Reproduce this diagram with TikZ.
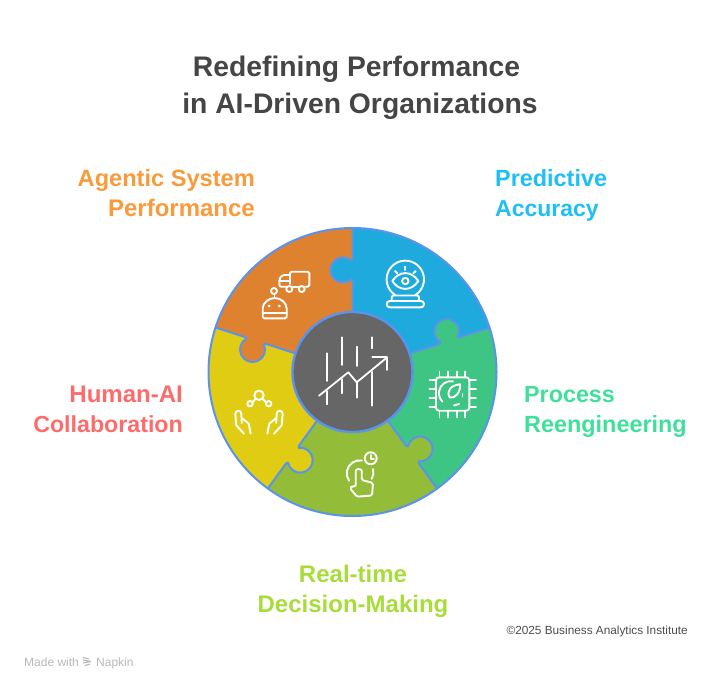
\documentclass[tikz,border=0pt]{standalone}
\usepackage{fontspec}
\setmainfont{Liberation Sans}
\definecolor{ringblue}{HTML}{5A93EE}
\definecolor{pOrange}{HTML}{DF8230}
\definecolor{pBlue}{HTML}{1EAADC}
\definecolor{pGreen}{HTML}{3FC583}
\definecolor{pLime}{HTML}{93BC38}
\definecolor{pYellow}{HTML}{E1CC14}
\definecolor{hub}{HTML}{666666}
\definecolor{tOrange}{HTML}{F99A3C}
\definecolor{tBlue}{HTML}{1EBFF5}
\definecolor{tGreen}{HTML}{3EE09A}
\definecolor{tLime}{HTML}{A8DC3A}
\definecolor{tRed}{HTML}{FF6B6B}
\tikzset{
  titletext/.style={font=\fontsize{28.3}{28.3}\selectfont\bfseries,text=black!73,inner sep=0pt,anchor=base},
  labeltext/.style={font=\fontsize{#1}{#1}\selectfont\bfseries,inner sep=0pt},
  icon/.style={draw=white,line width=1.9pt,line cap=round,line join=round},
  seam/.style={draw=ringblue,line width=2pt,line join=round,line cap=round},
}
\newcommand{\seampath}{(60,0) -- (91,0) -- (92.9,1) arc[start angle=223,end angle=-43,radius=12.5] -- (113,0) -- (144,0)}
\begin{document}
\begin{tikzpicture}[x=1pt,y=1pt]
\useasboundingbox (0,0) rectangle (720,-690);
% wedges: each lies clockwise of the seam at angle \a
\begin{scope}[shift={(352.5,-372)}]
  \foreach \a/\c in {90/pBlue,18/pGreen,-54/pLime,-126/pYellow,162/pOrange}{
    \begin{scope}[rotate=\a]
      \fill[\c] (60,0) -- (144,0) arc[start angle=0,end angle=-72,radius=144] -- (-72:60) arc[start angle=-72,end angle=0,radius=60] -- cycle;
    \end{scope}
  }
  \foreach \a/\c in {90/pBlue,18/pGreen,-54/pLime,-126/pYellow,162/pOrange}{
    \begin{scope}[rotate=\a]
      \fill[\c] (90,-1) -- (91,0) -- (92.9,1) arc[start angle=223,end angle=-43,radius=12.5] -- (113,0) -- (114,-1) -- cycle;
      \path[seam] \seampath;
    \end{scope}
  }
  \draw[ringblue,line width=2pt] (0,0) circle[radius=144];
  \filldraw[fill=hub,draw=ringblue,line width=2.4pt] (0,0) circle[radius=60];
\end{scope}
% hub icon
\begin{scope}[icon,line width=1.8pt]
  \draw (326.7,-353.3) -- (326.7,-381);
  \draw (326.7,-391) -- (326.7,-404.3);
  \draw (341.7,-337.3) -- (341.7,-365);
  \draw (341.7,-379) -- (341.7,-393.3);
  \draw (356.7,-346.7) -- (356.7,-366);
  \draw (356.7,-382.3) -- (356.7,-397.7);
  \draw (371.7,-337.3) -- (371.7,-348.3);
  \draw (371.7,-371.7) -- (371.7,-405.7);
  \draw (319,-395.7) -- (348.3,-372.3) -- (356.7,-382.3) -- (386.7,-357.7);
  \draw (372.3,-356.7) -- (386.7,-356.7) -- (386.7,-370);
\end{scope}
% truck and robot
\begin{scope}[icon]
  \draw[rounded corners=1.5pt] (290,-284) -- (290,-271.7) -- (309.3,-271.7) -- (309.3,-286.7) -- (305,-286.7);
  \draw (298.5,-286.7) -- (292.5,-286.7);
  \draw[rounded corners=2pt] (286,-286.7) -- (279.3,-286.7) -- (279.3,-279) -- (282,-275) -- (290,-275);
  \draw (279.5,-281) -- (290,-281);
  \draw (289.3,-289) circle[radius=3];
  \draw (301.7,-289) circle[radius=3];
  \draw (274,-291) circle[radius=3];
  \draw (274.5,-294) -- (274.5,-298);
  \draw[rounded corners=1.5pt] (262.7,-318.3) -- (262.7,-310) arc[start angle=180,end angle=0,radius=12] -- (286.7,-318.3) -- cycle;
  \draw (262.7,-313.3) -- (286.7,-313.3);
  \fill[white,draw=none] (269,-306) circle[radius=1.5] (279.3,-306) circle[radius=1.5];
\end{scope}
% crystal ball
\begin{scope}[icon]
  \draw (395.4,-295.2) arc[start angle=238,end angle=-58,radius=18.7];
  \draw (392.3,-281) .. controls (399,-270.5) and (411.5,-270.5) .. (418.3,-281) .. controls (411.5,-291.5) and (399,-291.5) .. (392.3,-281) -- cycle;
  \draw (405.3,-281) circle[radius=3.2];
  \draw (405.3,-266.7) -- (405.3,-270);
  \draw (395,-271) -- (397.3,-273.3);
  \draw (415.7,-271) -- (413.3,-273.3);
  \draw[rounded corners=2pt] (391.7,-301) -- (391.7,-295.5) -- (419,-295.5) -- (419,-301);
  \draw[rounded corners=3pt] (386.7,-301) rectangle (424,-307.3);
\end{scope}
% chip
\begin{scope}[icon]
  \draw[rounded corners=3pt] (436,-377.3) rectangle (469.3,-410.7);
  \foreach \t in {439.5,448.3,456.7,465}{
    \draw (\t,-371.7) -- (\t,-377.3);
    \draw (\t,-410.7) -- (\t,-417.3);
  }
  \foreach \t in {380,389,398.3,407.3}{
    \draw (429.5,-\t) -- (436,-\t);
    \draw (469.3,-\t) -- (476,-\t);
  }
  \draw (453,-381.3) arc[start angle=80,end angle=225,radius=12];
  \draw (454,-405.5) -- (459,-404);
  \draw (462.5,-394) -- (462.5,-396.5);
  \draw (449.5,-397.5) .. controls (446,-390) and (452,-385) .. (460,-384.3) .. controls (461,-392) and (455,-399) .. (449.5,-397.5) -- cycle;
\end{scope}
% hand and clock
\begin{scope}[icon]
  \draw (370.7,-458.3) circle[radius=6];
  \draw (370.7,-455) -- (370.7,-459) -- (374,-459);
  \draw (362,-460.5) arc[start angle=80,end angle=215,radius=13];
  \draw (373,-469) arc[start angle=15,end angle=-30,radius=13];
  \draw[rounded corners=1.5pt] (355.7,-486.7) -- (355.7,-472) arc[start angle=180,end angle=0,radius=3] -- (361.7,-480) -- (373,-483) -- (372,-495.5) -- (357,-496.7) -- (350,-488.3) -- (352,-486) -- cycle;
\end{scope}
% hands and network
\begin{scope}[icon]
  \draw (259,-395.3) circle[radius=4.7];
  \draw (250,-403.7) circle[radius=2.7];
  \draw (268.7,-403.7) circle[radius=2.7];
  \draw (252.5,-402.5) -- (255.3,-399);
  \draw (266.2,-402.5) -- (262.7,-399);
  \draw (244,-433.7) -- (236.3,-425.3) -- (235.3,-413.7) arc[start angle=180,end angle=0,radius=3] -- (241.8,-423);
  \draw (241.8,-418) -- (248.7,-423.7) -- (250.7,-433.7);
  \draw (274,-433.7) -- (281.7,-425.3) -- (282.7,-413.7) arc[start angle=0,end angle=180,radius=3] -- (276.2,-423);
  \draw (276.2,-418) -- (269.3,-423.7) -- (267.3,-433.7);
\end{scope}
% texts
\node[titletext] (t1) at (356.5,-77) {Redefining Performance};
\node[titletext] (t2) at (360,-114) {in AI-Driven Organizations};
\node[labeltext=23.6,text=tOrange,anchor=base east] (a1) at (255,-186) {Agentic System};
\node[labeltext=24,text=tOrange,anchor=base east] (a2) at (255,-216) {Performance};
\node[labeltext=23.4,text=tBlue,anchor=base west] (b1) at (495,-186) {Predictive};
\node[labeltext=23,text=tBlue,anchor=base west] (b2) at (495,-216) {Accuracy};
\node[labeltext=23.3,text=tGreen,anchor=base west] (c1) at (524,-402) {Process};
\node[labeltext=23.4,text=tGreen,anchor=base west] (c2) at (524,-432) {Reengineering};
\node[labeltext=24,text=tRed,anchor=base east] (d1) at (183,-402) {Human-AI};
\node[labeltext=23.2,text=tRed,anchor=base east] (d2) at (183,-432) {Collaboration};
\node[labeltext=24,text=tLime,anchor=base] (e1) at (353,-582) {Real-time};
\node[labeltext=24,text=tLime,anchor=base] (e2) at (353,-612) {Decision-Making};
\node[font=\fontsize{11.8}{12}\selectfont,text=black!70,inner sep=0pt,anchor=base east] (f1) at (688,-634) {©2025 Business Analytics Institute};
\node[font=\fontsize{12}{12}\selectfont,text=black!28,inner sep=0pt,anchor=base west] (m1) at (24,-666) {Made with};
\node[font=\fontsize{12}{12}\selectfont,text=black!28,inner sep=0pt,anchor=base west] (m2) at (96,-666) {Napkin};
\draw[black!28,line width=1.1pt] (83,-657.5) -- (89,-659) (83,-660) -- (91,-661.5) (83,-663) -- (91,-661.5) (85,-665.5) -- (90,-664);
\end{tikzpicture}
\end{document}
